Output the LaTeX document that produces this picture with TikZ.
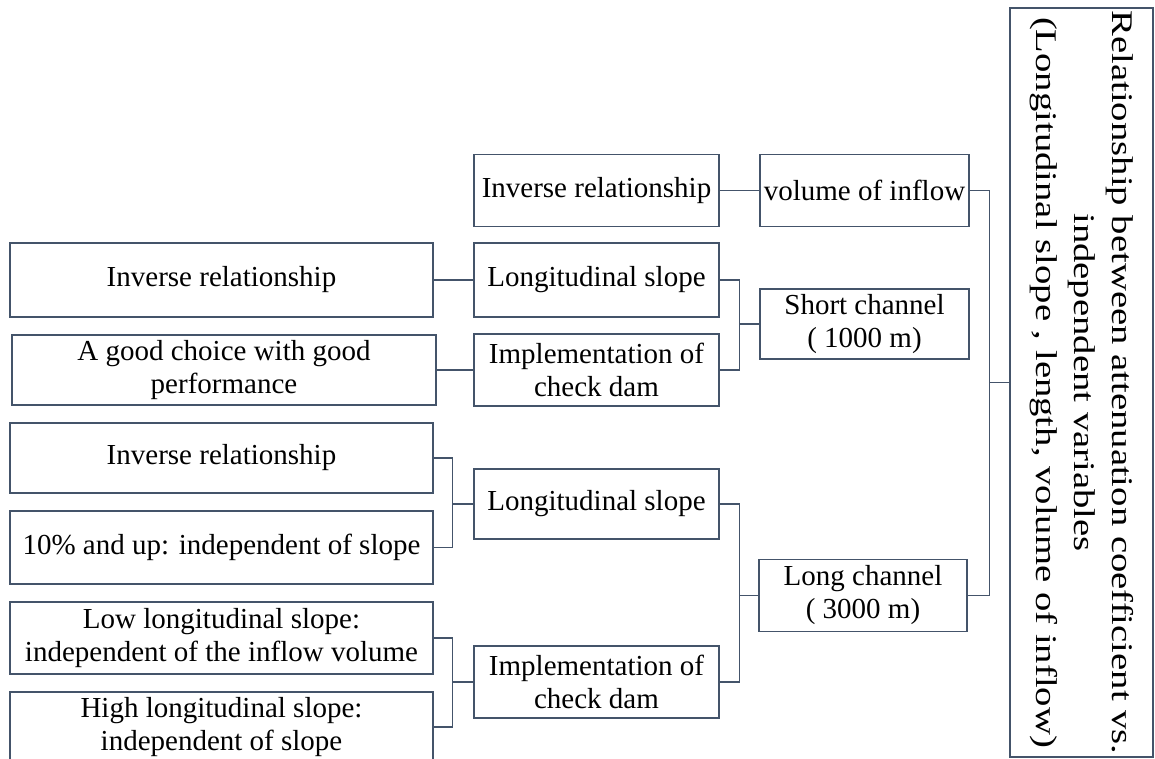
\documentclass[tikz,border=0pt]{standalone}
\usepackage{fontspec}
\setmainfont{Liberation Serif}
\definecolor{linegray}{RGB}{68,84,106}
\begin{document}
\begin{tikzpicture}
  [x=1pt,y=-1pt,color=linegray,line width=1.3pt,
   every node/.style={draw,rectangle,align=center,inner sep=0pt,text=black,
     minimum height=72pt,font=\fontsize{29}{33}\selectfont},
   lbox/.style={minimum width=423pt},
   mbox/.style={minimum width=245pt},
   cbox/.style={minimum width=209pt}]
  \useasboundingbox (0,0) rectangle (1155,759);
  \clip (0,0) rectangle (1155,759);

  \node (root)[rotate=-90,xscale=1.29,minimum width=580.6pt,minimum height=143pt,
    font=\fontsize{30}{38}\selectfont] at (1081.5,382.5)
    {Relationship between attenuation coefficient vs.\\independent variables\\(Longitudinal slope , length, volume of inflow)};

  \node (vin)[cbox] at (864.5,190.5) {volume of inflow};
  \node (sc)[cbox,minimum height=70pt] at (864.5,324) {Short channel\\( 1000 m)};
  \node (lc)[cbox,minimum width=208pt] at (863,595.5) {Long channel\\( 3000 m)};

  \node (inv0)[mbox] at (596.5,190.5) {Inverse relationship};
  \node (ls1)[mbox,minimum height=74pt] at (596.5,280) {Longitudinal slope};
  \node (cd1)[mbox] at (596.5,370) {Implementation of\\check dam};
  \node (ls2)[mbox,minimum height=70pt] at (596.5,504) {Longitudinal slope};
  \node (cd2)[mbox] at (596.5,682) {Implementation of\\check dam};

  \node (inv1)[lbox,minimum height=74pt] at (221.5,280) {Inverse relationship};
  \node (good)[lbox,minimum width=424pt,minimum height=70pt] at (224,370) {A good choice with good\\performance};
  \node (inv2)[lbox,minimum height=70pt] at (221.5,458) {Inverse relationship};
  \node (ten)[lbox,minimum height=73pt] at (221.5,547.5) {10\% and up: independent of slope};
  \node (low)[lbox] at (221.5,638) {Low longitudinal slope:\\independent of the inflow volume};
  \node (high)[lbox,minimum height=70pt] at (221.5,727) {High longitudinal slope:\\independent of slope};

  \foreach \from/\to in {inv0/vin,inv1/ls1,good/cd1}
    \draw (\from.east) -- (\to.west);

  \draw (root.south) -- ++(-20,0) coordinate (jm);
  \draw (sc.west) -- ++(-20,0) coordinate (js);
  \draw (lc.west) -- ++(-19,0) coordinate (jl);
  \draw (ls2.west) -- ++(-21,0) coordinate (ja);
  \draw (cd2.west) -- ++(-21,0) coordinate (jb);

  \foreach \top/\j/\bot in {vin/jm/lc,ls1/js/cd1,ls2/jl/cd2,inv2/ja/ten,low/jb/high}
    \draw (\top.east) -| (\j) |- (\bot.east);

\end{tikzpicture}
\end{document}
